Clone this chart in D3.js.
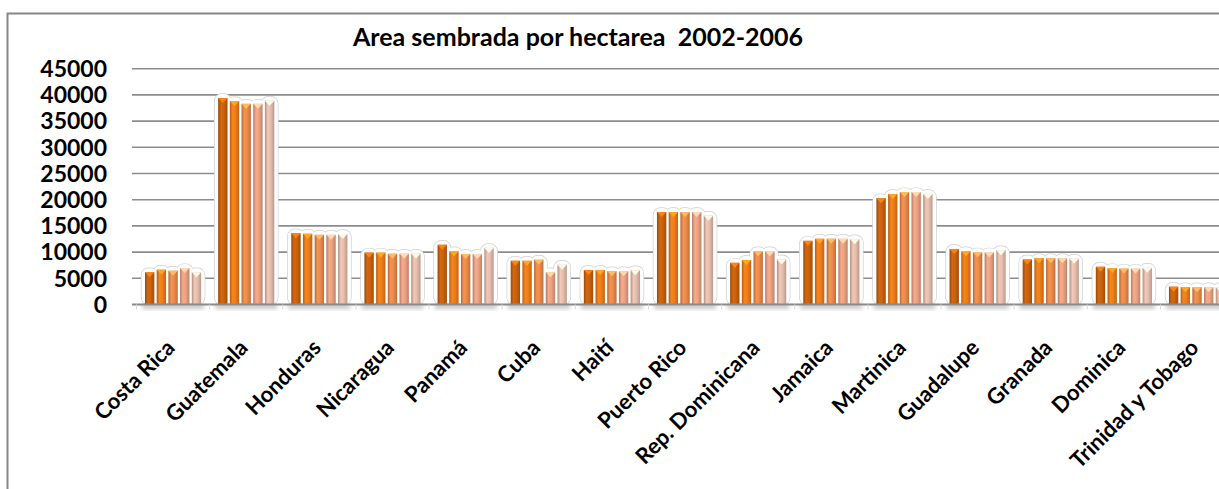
<!DOCTYPE html>
<html><head><meta charset="utf-8">
<script src="https://cdn.jsdelivr.net/npm/d3@7"></script>
<style>body{margin:0;background:#fff}svg{display:block}</style>
</head><body>
<script>
const categories = ["Costa Rica","Guatemala","Honduras","Nicaragua","Panamá","Cuba","Haití","Puerto Rico","Rep. Dominicana","Jamaica","Martinica","Guadalupe","Granada","Dominica","Trinidad y Tobago"];
const years = ["2002","2003","2004","2005","2006"];
const v2002 = [6150,39400,13600,9900,11400,8350,6600,17650,7950,12150,20300,10600,8600,7200,3400];
const v2003 = [6650,38800,13500,9900,10150,8350,6600,17650,8500,12550,21100,10150,8850,6950,3300];
const v2004 = [6450,38300,13300,9700,9650,8550,6350,17650,10150,12550,21450,9950,8850,6850,3300];
const v2005 = [6950,38300,13300,9700,9650,6150,6350,17650,10150,12550,21450,9950,8850,6850,3300];
const v2006 = [6150,38900,13450,9700,10800,7600,6550,16950,8600,12450,21100,10350,8750,7000,3300];
const series = [v2002,v2003,v2004,v2005,v2006];
const yTicks = [0,5000,10000,15000,20000,25000,30000,35000,40000,45000];
const title = "Area sembrada por hectarea  2002-2006";
const colors = ["#c9620e","#ee7d1a","#eb8b4b","#eca283","#e6bead"];

const W=1219,H=489;
const svg=d3.select("body").append("svg").attr("width",W).attr("height",H);
svg.append("rect").attr("width",W).attr("height",H).attr("fill","#fff");
const defs=svg.append("defs");
colors.forEach((c,i)=>{
  const base=d3.color(c);
  const g=defs.append("linearGradient").attr("id","g"+i).attr("x1",0).attr("x2",1).attr("y1",0).attr("y2",0);
  g.append("stop").attr("offset","0%").attr("stop-color",base.darker(0.8));
  g.append("stop").attr("offset","30%").attr("stop-color",base.brighter(0.15));
  g.append("stop").attr("offset","60%").attr("stop-color",base);
  g.append("stop").attr("offset","100%").attr("stop-color",base.darker(0.6));
});
const blur=defs.append("filter").attr("id","blur").attr("x","-20%").attr("y","-50%").attr("width","140%").attr("height","200%");
blur.append("feGaussianBlur").attr("stdDeviation",2);

// frame
svg.append("rect").attr("x",7.5).attr("y",13.5).attr("width",1300).attr("height",600)
  .attr("fill","none").attr("stroke","#868686").attr("stroke-width",2);

const y=d3.scaleLinear().domain([0,45000]).range([304.5,68.7]);
const x0=d3.scaleBand().domain(categories).range([136.5,1233.6]).padding(0);
const x1=d3.scaleBand().domain(years).range([8.5,x0.bandwidth()-8.5]).paddingInner(0.2);

// gridlines
svg.append("g").selectAll("line").data(yTicks.slice(1)).join("line")
  .attr("x1",132).attr("x2",W).attr("y1",d=>y(d)).attr("y2",d=>y(d))
  .attr("stroke","#8c8c8c").attr("stroke-width",1.6);

// y labels
svg.append("g").selectAll("text").data(yTicks).join("text")
  .attr("x",107).attr("y",d=>y(d)).attr("dy","0.36em").attr("text-anchor","end")
  .attr("font-family","Lato").attr("font-weight","bold").attr("font-size",23).attr("fill","#000")
  .text(d=>d);

// shadow under baseline
svg.append("g").selectAll("rect").data(categories).join("rect")
  .attr("x",d=>x0(d)+x1(years[0])-3).attr("width",x1.step()*4+x1.bandwidth()+6)
  .attr("y",y(0)).attr("height",4).attr("fill","#b8b8b8").attr("filter","url(#blur)");

const groups=svg.append("g").selectAll("g").data(categories).join("g")
  .attr("transform",d=>`translate(${x0(d)},0)`);
const cells=(ci)=>years.map((yr,si)=>({yr,si,v:series[si][ci]}));
groups.each(function(cat,ci){
  const g=d3.select(this);
  const d=cells(ci);
  g.selectAll("rect.o").data(d).join("rect").attr("class","o")
    .attr("x",e=>x1(e.yr)-3.5).attr("width",x1.bandwidth()+7)
    .attr("y",e=>y(e.v)-4).attr("height",e=>y(0)-y(e.v)+4).attr("rx",7)
    .attr("fill","none").attr("stroke","#cfcfcf").attr("stroke-width",1.4);
  g.selectAll("rect.f").data(d).join("rect").attr("class","f")
    .attr("x",e=>x1(e.yr)-3.5).attr("width",x1.bandwidth()+7)
    .attr("y",e=>y(e.v)-4).attr("height",e=>y(0)-y(e.v)+4).attr("rx",7)
    .attr("fill","#fdfdfd");
  g.selectAll("rect.b").data(d).join("rect").attr("class","b")
    .attr("x",e=>x1(e.yr)).attr("width",x1.bandwidth())
    .attr("y",e=>y(e.v)).attr("height",e=>y(0)-y(e.v))
    .attr("fill",e=>`url(#g${e.si})`);
  g.selectAll("path.t").data(d).join("path").attr("class","t")
    .attr("d",e=>{const a=x1(e.yr),w=x1.bandwidth(),t=y(e.v);return `M${a},${t}L${a+w},${t}L${a+w/2},${t+5}Z`;})
    .attr("fill",e=>d3.color(colors[e.si]).brighter(0.9)).attr("opacity",0.9);
});

// baseline
svg.append("line").attr("x1",132).attr("x2",W).attr("y1",y(0)).attr("y2",y(0))
  .attr("stroke","#8a8a8a").attr("stroke-width",1.8);
svg.append("g").selectAll("line").data(categories).join("line")
  .attr("x1",d=>x0(d)).attr("x2",d=>x0(d)).attr("y1",y(0)).attr("y2",y(0)+5)
  .attr("stroke","#d8d8d8").attr("stroke-width",1);

// x labels
svg.append("g").selectAll("text").data(categories).join("text")
  .attr("transform",d=>`translate(${x0(d)+x0.bandwidth()/2+3},349) rotate(-45)`)
  .attr("text-anchor","end")
  .attr("font-family","Lato").attr("font-weight","bold").attr("font-size",22).attr("fill","#000")
  .text(d=>d);

// title
svg.append("text").attr("x",578).attr("y",46).attr("text-anchor","middle")
  .style("white-space","pre")
  .attr("font-family","Lato").attr("font-weight","bold").attr("font-size",25).attr("fill","#000")
  .text(title);
</script>
</body></html>
